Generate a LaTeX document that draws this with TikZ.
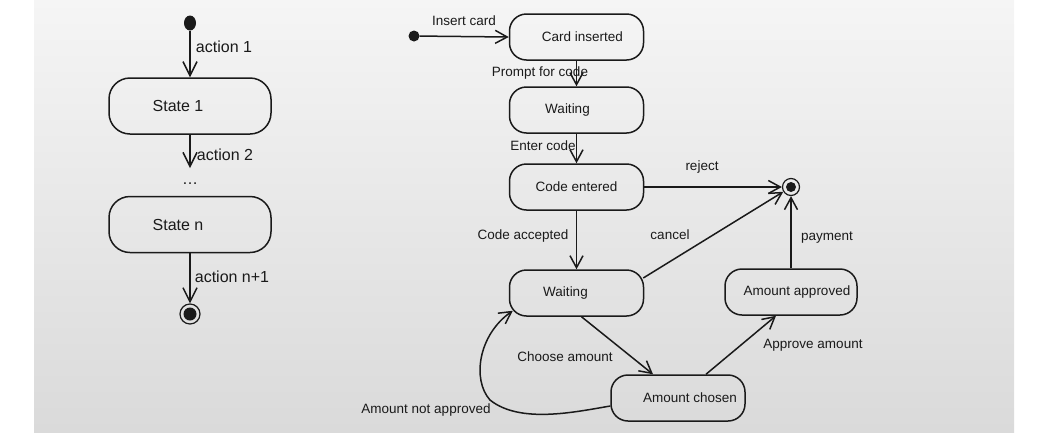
\documentclass[tikz,border=0pt]{standalone}
\usepackage{fontspec}
\setmainfont{Liberation Sans}
\usetikzlibrary{arrows.meta,shapes.geometric}
\definecolor{bgtop}{HTML}{F5F5F5}
\definecolor{bgbot}{HTML}{DADADA}
\definecolor{ink}{HTML}{1A1A1A}
\tikzset{
  big/.style={font=\fontsize{16}{18}\selectfont},
  small/.style={font=\fontsize{13.5}{15}\selectfont},
  stateL/.style={draw=ink, line width=1.5pt, rounded corners=21pt, minimum width=162pt, minimum height=56pt, big},
  stateR/.style={draw=ink, line width=1.5pt, rounded corners=17pt, minimum width=134pt, minimum height=46pt, small},
  initdot/.style={fill=ink, inner sep=0pt},
  finalst/.style={draw=ink, line width=1.2pt, circle, inner sep=0pt, fill=none},
  trans/.style={draw=ink, line width=1.5pt, -{Straight Barb[length=12pt,width=13pt,line width=1.5pt]}},
  transL/.style={trans, -{Straight Barb[length=14pt,width=14pt,line width=1.5pt]}},
  lbl/.style={text=ink, inner sep=0pt}
}
\begin{document}
\begin{tikzpicture}[x=1pt,y=-1pt]
\useasboundingbox (0,0) rectangle (1052,432);
\shade[top color=bgtop, bottom color=bgbot] (34,0) rectangle (1014,432);

% ---------- left diagram ----------
\node[initdot, ellipse, minimum width=12pt, minimum height=15pt] (i1) at (190,23) {};
\node[stateL, label={[big,lbl,xshift=-12pt]center:State 1}] (s1) at (190,106) {};
\node[stateL, label={[big,lbl,xshift=-12pt]center:State n}] (sn) at (190,224.5) {};
\node[finalst, minimum size=20pt] (f1) at (190,314) {};
\fill[ink] (f1.center) circle (6.5pt);
\coordinate (a2end) at (190,168);

\draw[transL] (i1) -- (s1.north);
\draw[transL] (s1.south) -- (a2end);
\draw[transL] (sn.south) -- (f1);

\node[lbl,big] at (224,47) {action 1};
\node[lbl,big] at (225,155) {action 2};
\node[lbl,big] at (190,184) {\ldots};
\node[lbl,big] at (232,277) {action n+1};

% ---------- right diagram ----------
\node[initdot, circle, minimum size=11pt] (i2) at (414,36) {};
\node[stateR, label={[small,lbl,xshift=6pt]center:Card inserted}] (ci) at (576.5,37) {};
\node[stateR, label={[small,lbl,xshift=-9pt]center:Waiting}] (w1) at (576.5,110) {};
\node[stateR, label={[small,lbl]center:Code entered}] (ce) at (576.5,187) {};
\node[stateR, label={[small,lbl,xshift=-11pt]center:Waiting}] (w2) at (576.5,293) {};
\node[stateR, label={[small,lbl,xshift=12pt]center:Amount chosen}] (ac) at (678,398) {};
\node[stateR, minimum width=132pt, label={[small,lbl,xshift=6pt]center:Amount approved}] (aa) at (791,292) {};
\node[finalst, minimum size=17pt] (f2) at (791,187) {};
\fill[ink] (f2.center) circle (5pt);

\draw[trans] (i2) -- (ci.west);
\draw[trans] (ci.south) -- (w1.north);
\draw[trans] (w1.south) -- (ce.north);
\draw[trans] (ce.south) -- (w2.north);
\draw[trans] (ce.east) -- (f2);
\draw[trans] ([xshift=-1pt,yshift=15pt]w2.east) -- (f2);
\draw[trans] (aa.north) -- (f2);
\draw[trans] ([xshift=5pt]w2.south) -- ([xshift=-25pt]ac.north);
\draw[trans] ([xshift=28pt]ac.north) -- ([xshift=-15pt]aa.south);
\draw[trans] ([yshift=-8pt]ac.west) .. controls (575,412) and (520,424) .. (490,400)
  .. controls (472,380) and (478,335) .. ([xshift=4pt,yshift=6pt]w2.south west);

\node[lbl,small] at (464,21) {Insert card};
\node[lbl,small] at (540,73) {Prompt for code};
\node[lbl,small] at (543,146) {Enter code};
\node[lbl,small] at (523,236) {Code accepted};
\node[lbl,small] at (702,167) {reject};
\node[lbl,small] at (670,235) {cancel};
\node[lbl,small] at (827,238) {payment};
\node[lbl,small] at (565,357) {Choose amount};
\node[lbl,small] at (813,345) {Approve amount};
\node[lbl,small] at (426,410) {Amount not approved};
\end{tikzpicture}
\end{document}
